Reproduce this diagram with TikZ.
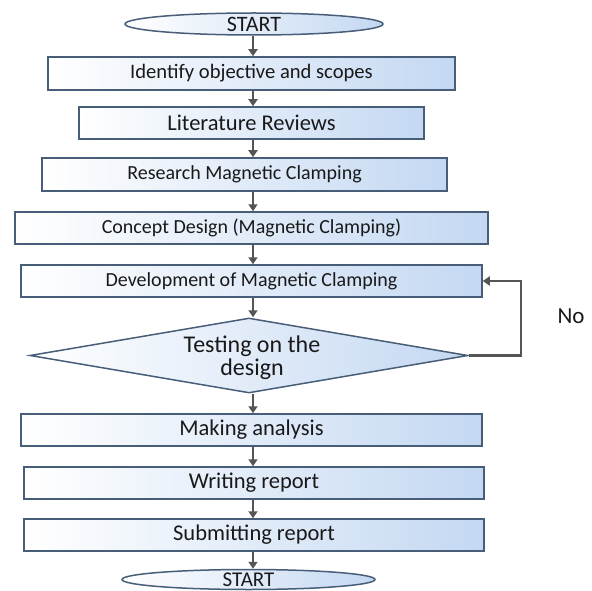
\documentclass[tikz,border=0pt]{standalone}
\usepackage{fontspec}
\setmainfont{Carlito}
\usetikzlibrary{shapes.geometric,arrows.meta}
\definecolor{boxblue}{RGB}{196,216,242}
\definecolor{boxedge}{RGB}{72,94,120}
\definecolor{arrgray}{RGB}{85,85,85}
\definecolor{txt}{RGB}{25,25,25}
\tikzset{
  box/.style={draw=boxedge, line width=1.5pt, left color=white, right color=boxblue,
    inner sep=0pt, font=\fontsize{20}{24}\selectfont, text=txt},
  bigbox/.style={box, font=\fontsize{22.5}{26}\selectfont},
  term/.style={box, ellipse, font=\fontsize{22}{26}\selectfont},
  decide/.style={box, diamond, aspect=5.9},
  dtext/.style={align=center, inner sep=0pt, text=txt, font=\fontsize{24}{23}\selectfont},
  arr/.style={draw=arrgray, line width=2.4pt, -{Triangle[length=7pt,width=9pt]}},
  lbl/.style={font=\fontsize{23}{26}\selectfont, text=txt}
}
\begin{document}
\begin{tikzpicture}[x=1pt,y=-1pt]
\useasboundingbox (0,0) rectangle (592,591);
\node[term, minimum width=258pt, minimum height=22pt] (start) at (254,24) {START};
\node[box, font=\fontsize{20.6}{24}\selectfont, minimum width=407pt, minimum height=33pt] (b1) at (251.5,73.5) {Identify objective and scopes};
\node[bigbox, minimum width=345pt, minimum height=32pt] (b2) at (251.5,123) {Literature Reviews};
\node[box, minimum width=405pt, minimum height=33pt] (b3) at (244.5,174.5) {Research Magnetic Clamping};
\node[box, minimum width=473pt, minimum height=32pt] (b4) at (251.5,228) {Concept Design (Magnetic Clamping)};
\node[box, minimum width=461pt, minimum height=32pt] (b5) at (251.5,281) {Development of Magnetic Clamping};
\node[decide, minimum width=438pt, minimum height=75pt] (dia) at (249,355.5) {};
\node[dtext] (diat) at (252,358) {Testing on the\\design};
\node[bigbox, minimum width=461pt, minimum height=32pt] (b6) at (251.5,430) {Making analysis};
\node[bigbox, minimum width=460pt, minimum height=32pt] (b7) at (254,483) {Writing report};
\node[bigbox, minimum width=460pt, minimum height=32pt] (b8) at (254,535) {Submitting report};
\node[term, font=\fontsize{21}{24}\selectfont, minimum width=253pt, minimum height=20pt] (stop) at (248.5,579.5) {START};
\node[lbl] (no) at (571,316) {No};
\coordinate (ax) at (253,0);
\draw[arr] (start.south -| ax) -- (b1.north -| ax);
\draw[arr] (b1.south -| ax) -- (b2.north -| ax);
\draw[arr] (b2.south -| ax) -- (b3.north -| ax);
\draw[arr] (b3.south -| ax) -- (b4.north -| ax);
\draw[arr] (b4.south -| ax) -- (b5.north -| ax);
\draw[arr] (b5.south -| ax) -- (dia.north -| ax);
\draw[arr] (dia.south -| ax) -- (b6.north -| ax);
\draw[arr] (b6.south -| ax) -- (b7.north -| ax);
\draw[arr] (b7.south -| ax) -- (b8.north -| ax);
\draw[arr] (b8.south -| ax) -- (stop.north -| ax);
\draw[arr] (dia.east) -- ++(52,0) |- (b5.east);
\end{tikzpicture}
\end{document}
